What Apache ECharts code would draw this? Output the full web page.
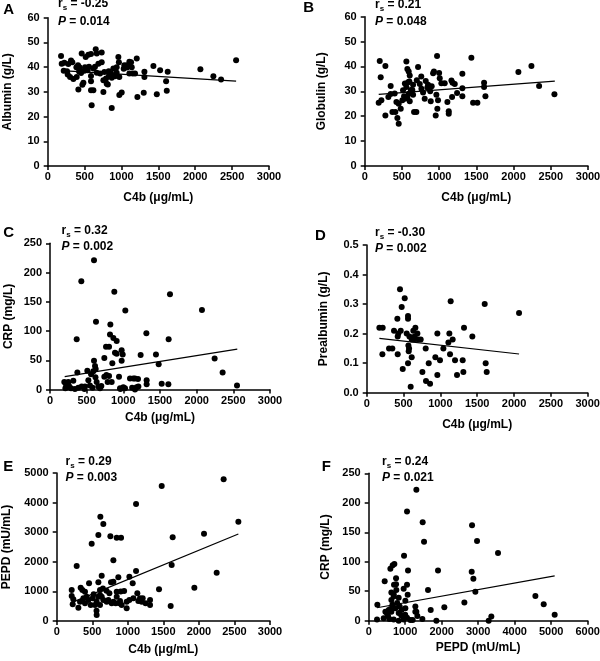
<!DOCTYPE html>
<html><head><meta charset="utf-8">
<script src="https://cdn.jsdelivr.net/npm/echarts@6/dist/echarts.min.js"></script>
<style>html,body{margin:0;padding:0;background:#fff}#c{width:600px;height:661px}</style>
</head><body><div id="c"></div>
<script>
// ---------------- DATA ----------------
const panelLetters = ['A','B','C','D','E','F'];
const yNames = ['Albumin (g/L)','Globulin (g/L)','CRP (mg/L)','Prealbumin (g/L)','PEPD (mU/mL)','CRP (mg/L)'];
const xNames = ['C4b (\u03bcg/mL)','C4b (\u03bcg/mL)','C4b (\u03bcg/mL)','C4b (\u03bcg/mL)','C4b (\u03bcg/mL)','PEPD (mU/mL)'];
const rsValues = ['-0.25','0.21','0.32','-0.30','0.29','0.24'];
const pValues = ['0.014','0.048','0.002','0.002','0.003','0.021'];
const xMax = [3000,3000,3000,3000,3000,6000];
const xStep = [500,500,500,500,500,1000];
const yMax = [60,60,250,0.5,5000,250];
const yStep = [10,10,50,0.1,1000,50];
const yDecimals = [0,0,0,1,0,0];

const albuminC4b = [[181,44.5],[190,41.4],[226,41.8],[217,38.5],[262,38.3],[280,41.3],[316,42.7],[334,42],[271,37],[303,36],[348,35.2],[389,40],[411,40.8],[430,40],[416,31],[438,38.7],[461,45.5],[452,37.6],[484,33.7],[470,32.9],[506,40],[515,44.1],[551,45],[587,45.3],[542,38.7],[587,36.4],[587,34.3],[587,30.6],[619,30.6],[596,24.6],[619,39.4],[651,47.2],[665,45.5],[687,41.4],[710,37.4],[732,45.9],[732,42],[755,29.9],[755,34.7],[791,35.4],[800,33.3],[827,38.3],[815,33],[859,37.4],[868,23.5],[890,39.4],[935,40],[958,44.1],[965,42],[971,36],[971,28.7],[1003,29.7],[1039,40.8],[1075,40.8],[1107,42.2],[1130,42],[1139,40],[1152,37.4],[1207,43.5],[1184,37.4],[1216,27.9],[1302,29.6],[1311,38.1],[1311,36],[1433,40.5],[1479,29],[1524,38.7],[1605,34.3],[1614,30.4],[1627,38.1],[2070,39.1],[2246,36.3],[2350,35],[2554,42.8],[393,36],[425,38.2],[497,38.5],[560,40.2],[641,40.2],[665,37.7],[768,38],[830,36.5],[868,35.7],[912,36.3],[935,37.7],[1030,39.3],[1107,37.4],[1075,39.9]];
const globulinC4b = [[202,42.2],[215,35.7],[188,25.4],[224,26.4],[278,40.2],[278,20.3],[349,32.1],[318,27.7],[349,28.9],[403,29.1],[372,21.7],[412,21.7],[439,19.3],[457,17],[426,25.7],[457,25],[484,23],[506,26.4],[515,30.4],[529,28],[560,42],[573,39],[591,38],[605,36.4],[583,33.7],[560,31.7],[538,27],[573,27.3],[605,26],[650,28.6],[650,32.7],[663,21.7],[694,21.7],[717,39.8],[740,33],[762,31],[784,29.5],[806,27],[842,31.5],[851,32.7],[887,26],[919,37.3],[972,44.2],[963,28.6],[985,26.4],[976,23],[954,20.3],[1008,35.3],[1030,33.3],[1075,33.3],[1111,25.7],[1129,22],[1129,21],[1165,34.4],[1210,33],[1174,27.7],[1241,29.3],[1312,37.1],[1312,31.2],[1312,28],[1433,43.5],[1456,25.4],[1514,25.4],[1604,33.5],[1604,31.7],[1622,28],[2065,37.8],[2240,40.2],[2343,32.1],[2549,28.8],[600,34],[620,30.5],[540,33.2],[700,34.5],[760,36],[820,34.2],[880,30],[930,38],[590,29],[640,30.5],[900,32],[1000,37.4],[1180,33.5]];
const crpC4b = [[600,221],[427,185],[877,167],[1636,163],[2072,136],[1027,135],[627,116],[823,111],[1314,96],[818,94],[364,86],[1618,86],[864,88],[909,83],[764,73],[805,73],[977,67],[886,63],[909,61],[741,54],[991,60],[1236,59],[1445,60],[977,49],[850,45],[1482,43],[2245,53],[2354,29],[2550,7],[600,49],[614,40],[623,35],[591,31],[509,32],[373,29],[523,16],[195,13],[218,9],[259,6],[318,15],[286,2],[386,3],[432,5],[477,5],[545,7],[636,13],[682,2],[659,5],[741,22],[805,23],[786,13],[841,13],[941,22],[955,2],[1023,2],[1091,19],[1136,19],[1159,19],[1159,0],[1205,5],[1318,16],[1318,9],[1523,10],[1614,9],[230,4],[340,1],[470,1],[560,26],[580,3],[620,21],[700,6],[770,25],[960,1],[1000,4],[1120,3],[1180,4],[1200,18],[210,2],[250,13]];
const prealbuminC4b = [[172,0.22],[217,0.22],[213,0.13],[303,0.15],[348,0.15],[371,0.21],[416,0.25],[421,0.19],[421,0.13],[452,0.35],[462,0.21],[475,0.29],[516,0.32],[489,0.08],[543,0.2],[561,0.26],[561,0.25],[566,0.16],[575,0.15],[570,0.14],[611,0.12],[597,0.02],[561,0.1],[633,0.21],[661,0.22],[611,0.18],[640,0.18],[688,0.2],[733,0.18],[756,0.07],[801,0.15],[805,0.04],[860,0.03],[842,0.1],[932,0.12],[995,0.11],[959,0.2],[959,0.06],[1041,0.15],[1122,0.2],[1109,0.17],[1167,0.18],[1131,0.13],[1140,0.31],[1199,0.11],[1226,0.06],[1303,0.11],[1321,0.22],[1312,0.07],[1434,0.19],[1602,0.3],[1615,0.1],[1629,0.07],[2068,0.27],[580,0.19],[650,0.19],[700,0.18],[430,0.2]];
const pepdC4b = [[211,1047],[211,845],[225,563],[281,1858],[305,450],[337,1126],[361,1047],[398,990],[422,822],[455,1272],[492,2613],[586,2905],[614,3524],[656,3277],[755,2860],[844,2815],[905,2815],[797,2050],[633,1532],[586,1306],[764,1306],[797,1330],[867,1475],[1022,1498],[1069,1272],[1116,1689],[1116,3953],[1477,4561],[1631,2826],[1617,1892],[1439,1070],[1603,507],[1936,1126],[2072,2950],[2250,1633],[2348,4786],[2555,3356],[234,732],[375,766],[445,709],[506,766],[562,653],[562,203],[609,878],[609,1047],[656,709],[703,653],[741,935],[797,653],[844,990],[891,676],[948,1013],[984,653],[984,428],[1022,709],[1134,935],[1148,676],[1209,766],[1195,653],[1313,709],[1313,540],[478,540],[539,540],[609,540],[727,709],[773,597],[830,597],[882,597],[914,540],[1078,766],[1172,766],[398,597],[328,653],[586,822],[633,822],[844,822],[560,350],[700,1020],[900,1000],[520,900],[650,1100],[1250,600]];
const crpPepd = [[1306,222],[1050,185],[1479,167],[1516,134],[968,110],[703,96],[657,94],[594,88],[1077,85],[438,67],[749,72],[749,62],[694,61],[1050,61],[757,52],[685,45],[958,54],[1068,44],[237,27],[621,48],[685,41],[822,39],[621,35],[1004,34],[1278,24],[1306,15],[1470,3],[1625,52],[1699,18],[1899,85],[2072,23],[2621,31],[2831,162],[2968,135],[2822,83],[2868,71],[2922,49],[3543,115],[3287,0],[3360,7],[4567,42],[4795,28],[5095,10],[228,2],[411,4],[457,15],[502,12],[566,3],[621,15],[685,2],[730,21],[822,13],[822,0],[895,9],[958,2],[1004,21],[1050,5],[1141,1],[1205,1],[1278,15],[1333,8],[1854,0],[548,18],[594,20],[530,8],[780,30],[850,24],[900,18],[1000,10],[650,27]];

const trendA = [[190,38.6],[2554,34.3]];
const trendB = [[188,28.8],[2554,34.1]];
const trendC = [[200,22],[2554,69]];
const trendD = [[172,0.184],[2068,0.131]];
const trendE = [[211,620],[2555,2940]];
const trendF = [[228,22],[5095,76]];

const scatterData = [albuminC4b, globulinC4b, crpC4b, prealbuminC4b, pepdC4b, crpPepd];
const trendData = [trendA, trendB, trendC, trendD, trendE, trendF];

// ---------------- LAYOUT ----------------
const FONT = '"Liberation Sans", Arial, Helvetica, sans-serif';
const grids = [
  {left:47.7, top:17.7, width:221.3, height:148.3},
  {left:364.7, top:16.7, width:223.3, height:149.3},
  {left:50, top:243.3, width:220, height:146.2},
  {left:366.7, top:245, width:221, height:147.7},
  {left:56.7, top:473, width:213.3, height:148},
  {left:368.7, top:473.3, width:219, height:147.4}
];
const xNameGap = [25.7, 25.7, 22.2, 25.7, 22.4, 21];
const yNameGap = [34.4, 36.9, 35.2, 36.9, 43.9, 36.9];
const letterPos = [[3.3,15],[303.3,13.3],[3.3,238.3],[315,240.7],[3.3,471.7],[321.7,471.7]];
const statPos = [[58,8.3,25.7],[375,9,25.7],[61.5,235,250.7],[375,237.3,253.3],[65.5,465.7,481.7],[382,465.7,481.7]];

const axisCommon = {
  axisLine:{show:true, onZero:false, lineStyle:{color:'#000', width:1.5}},
  axisTick:{show:true, length:4, inside:false, lineStyle:{color:'#000', width:1.5}},
  splitLine:{show:false}
};
const mid = (baseline, fs) => baseline - 0.3465*fs;

const option = {
  animation:false,
  backgroundColor:'#fff',
  grid: grids.map(g => Object.assign({outerBoundsMode:'none', containLabel:false}, g)),
  xAxis: grids.map((g,i) => Object.assign({}, axisCommon, {
    type:'value', gridIndex:i, min:0, max:xMax[i], interval:xStep[i],
    axisLabel:{color:'#000', fontSize:11, fontWeight:'bold', fontFamily:FONT, margin:5.5, showMinLabel:true, showMaxLabel:true,
      formatter: v => String(Math.round(v))},
    name:xNames[i], nameLocation:'middle', nameGap:xNameGap[i],
    nameTextStyle:{color:'#000', fontSize:12, fontWeight:'bold', fontFamily:FONT}
  })),
  yAxis: grids.map((g,i) => Object.assign({}, axisCommon, {
    type:'value', gridIndex:i, min:0, max:yMax[i], interval:yStep[i],
    axisLabel:{color:'#000', fontSize:11, fontWeight:'bold', fontFamily:FONT, margin:8, showMinLabel:true, showMaxLabel:true,
      formatter: v => v.toFixed(yDecimals[i])},
    name:yNames[i], nameLocation:'middle', nameGap:yNameGap[i],
    nameTextStyle:{color:'#000', fontSize:12, fontWeight:'bold', fontFamily:FONT}
  })),
  series: [],
  graphic: []
};

scatterData.forEach((d,i) => {
  option.series.push({type:'line', xAxisIndex:i, yAxisIndex:i, data:trendData[i], showSymbol:false, symbol:'none',
    lineStyle:{color:'#000', width:1.2}, z:2, silent:true});
  option.series.push({type:'scatter', xAxisIndex:i, yAxisIndex:i, data:d, symbol:'circle', symbolSize:6,
    itemStyle:{color:'#000', opacity:1}, clip:false, z:3, silent:true});
});

const txt = (x, y, text, fs, style) => ({
  type:'text', x:x, y:y, silent:true,
  style: Object.assign({text:text, fill:'#000', fontSize:fs, fontWeight:'bold', fontFamily:FONT,
    align:'left', verticalAlign:'middle'}, style || {})
});

panelLetters.forEach((L,i) => {
  const [lx, lb] = letterPos[i];
  option.graphic.push(txt(lx, mid(lb,15), L, 15));
  const [sx, rb, pb] = statPos[i];
  option.graphic.push(txt(sx, mid(rb,12), 'r', 12));
  option.graphic.push(txt(sx + 0.389*12, mid(rb+2.4,8), 's', 8));
  option.graphic.push(txt(sx + 0.389*12 + 0.556*8, mid(rb,12), ' = ' + rsValues[i], 12));
  option.graphic.push(txt(sx, mid(pb,12), 'P', 12, {fontStyle:'italic'}));
  option.graphic.push(txt(sx + 0.667*12, mid(pb,12), ' = ' + pValues[i], 12));
});

const chart = echarts.init(document.getElementById('c'), null, {renderer:'canvas'});
chart.setOption(option);
</script></body></html>
